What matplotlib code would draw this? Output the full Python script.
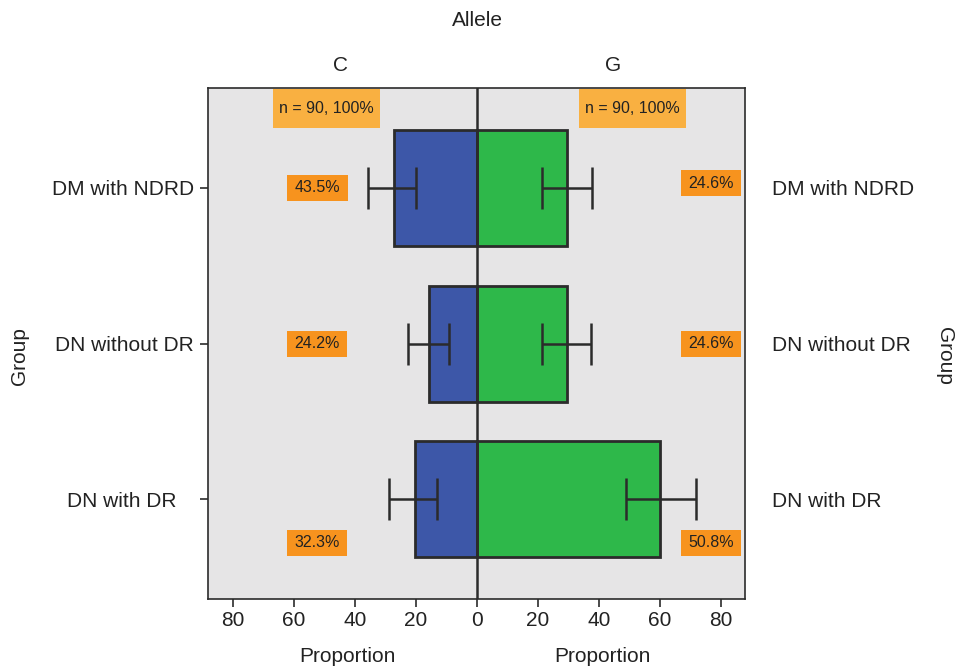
import matplotlib
matplotlib.use("Agg")
import matplotlib.pyplot as plt
import numpy as np
from matplotlib.path import Path

plt.rcParams['font.family'] = ['Liberation Sans', 'DejaVu Sans']

# data (proportion, %)
groups = ["DM with NDRD", "DN without DR", "DN with DR"]
left_labels = ["DM with NDRD", "DN without DR", "DN with DR   "]
c_prop = [27.1, 15.7, 20.4]
c_low = [19.8, 9.1, 13.0]
c_high = [35.7, 22.4, 28.9]
g_prop = [29.6, 29.6, 60.2]
g_low = [21.3, 21.3, 48.8]
g_high = [37.7, 37.3, 72.0]
c_pct = ["43.5%", "24.2%", "32.3%"]
g_pct = ["24.6%", "24.6%", "50.8%"]
n_label = "n = 90, 100%"
x_ticks = [-80, -60, -40, -20, 0, 20, 40, 60, 80]

blue = '#3d57a8'
green = '#2eb84a'
dark = '#2b2b2b'
bg = '#e6e5e6'
orange = '#f7931e'
orange_light = '#f9b041'


def box_pad(px, py):
    # rectangle box with different padding in x and y (fraction of font size)
    def style(x0, y0, width, height, mutation_size):
        dx = px * mutation_size
        dy = py * mutation_size
        return Path([(x0 - dx, y0 - dy), (x0 + width + dx, y0 - dy),
                     (x0 + width + dx, y0 + height + dy), (x0 - dx, y0 + height + dy),
                     (x0 - dx, y0 - dy)], closed=True)
    return style


fig = plt.figure(figsize=(9.56, 6.66), dpi=100)
ax = fig.add_axes([0.2179, 0.1006, 0.5617, 0.7668])
ax.set_facecolor(bg)

ypos = np.arange(len(groups))
c = np.array(c_prop)
g = np.array(g_prop)

ax.barh(ypos, -c, height=0.745, color=blue, edgecolor=dark, linewidth=2, zorder=2)
ax.barh(ypos, g, height=0.745, color=green, edgecolor=dark, linewidth=2, zorder=2)

# confidence intervals
c_err = [np.array(c_high) - c, c - np.array(c_low)]
g_err = [g - np.array(g_low), np.array(g_high) - g]
ax.errorbar(-c, ypos, xerr=c_err, fmt='none', ecolor=dark, elinewidth=1.8,
            capsize=14.8, capthick=1.8, zorder=3)
ax.errorbar(g, ypos, xerr=g_err, fmt='none', ecolor=dark, elinewidth=1.8,
            capsize=14.8, capthick=1.8, zorder=3)

ax.axvline(0, color=dark, linewidth=1.8, zorder=4)

ax.set_xlim(-88, 88)
ax.set_ylim(2.64, -0.64)

# labels in boxes
pct_style = dict(boxstyle=box_pad(0.47, 0.34), facecolor=orange, edgecolor='none')
n_style = dict(boxstyle=box_pad(0.37, 0.74), facecolor=orange_light, edgecolor='none')
pct_y_left = [0.0, 1.0, 2.28]
pct_y_right = [-0.03, 1.0, 2.28]
for i in range(len(groups)):
    ax.text(-52.3, pct_y_left[i], c_pct[i], fontsize=11.5, color='#222222',
            ha='center', va='center', bbox=pct_style, zorder=5)
    ax.text(76.8, pct_y_right[i], g_pct[i], fontsize=11.5, color='#222222',
            ha='center', va='center', bbox=pct_style, zorder=5)
ax.text(-49.3, -0.51, n_label, fontsize=11.5, color='#222222',
        ha='center', va='center', bbox=n_style, zorder=5)
ax.text(51.0, -0.51, n_label, fontsize=11.5, color='#222222',
        ha='center', va='center', bbox=n_style, zorder=5)

ax.set_xticks(x_ticks)
ax.set_xticklabels([str(abs(t)) for t in x_ticks])
ax.tick_params(axis='x', length=5.5, width=1.2, pad=3, labelsize=15,
               colors=dark, labelcolor='#222222')
ax.set_yticks(ypos)
ax.set_yticklabels(left_labels)
ax.tick_params(axis='y', length=5.5, width=1.2, pad=5, labelsize=15,
               colors=dark, labelcolor='#222222')
for s in ax.spines.values():
    s.set_color(dark)
    s.set_linewidth(1.2)

ax2 = ax.twinx()
ax2.set_ylim(ax.get_ylim())
ax2.set_yticks(ypos)
ax2.set_yticklabels(groups)
ax2.tick_params(axis='y', length=0, pad=19.5, labelsize=15, labelcolor='#222222')
for s in ax2.spines.values():
    s.set_visible(False)

fig.text(477 / 956, 1 - 21 / 666, "Allele", fontsize=15, ha='center', va='center', color='#222222')
fig.text(340 / 956, 1 - 65.5 / 666, "C", fontsize=15, ha='center', va='center', color='#222222')
fig.text(613 / 956, 1 - 65.5 / 666, "G", fontsize=15, ha='center', va='center', color='#222222')
fig.text(347 / 956, 1 - 662 / 666, "Proportion", fontsize=15, ha='center', va='baseline', color='#222222')
fig.text(602 / 956, 1 - 662 / 666, "Proportion", fontsize=15, ha='center', va='baseline', color='#222222')
fig.text(19 / 956, 1 - 356 / 666, "Group", fontsize=15, ha='center', va='center',
         rotation=90, color='#222222')
fig.text(945 / 956, 1 - 356 / 666, "Group", fontsize=15, ha='center', va='center',
         rotation=270, color='#222222')

fig.savefig("out.png", dpi=100)
plt.close(fig)
